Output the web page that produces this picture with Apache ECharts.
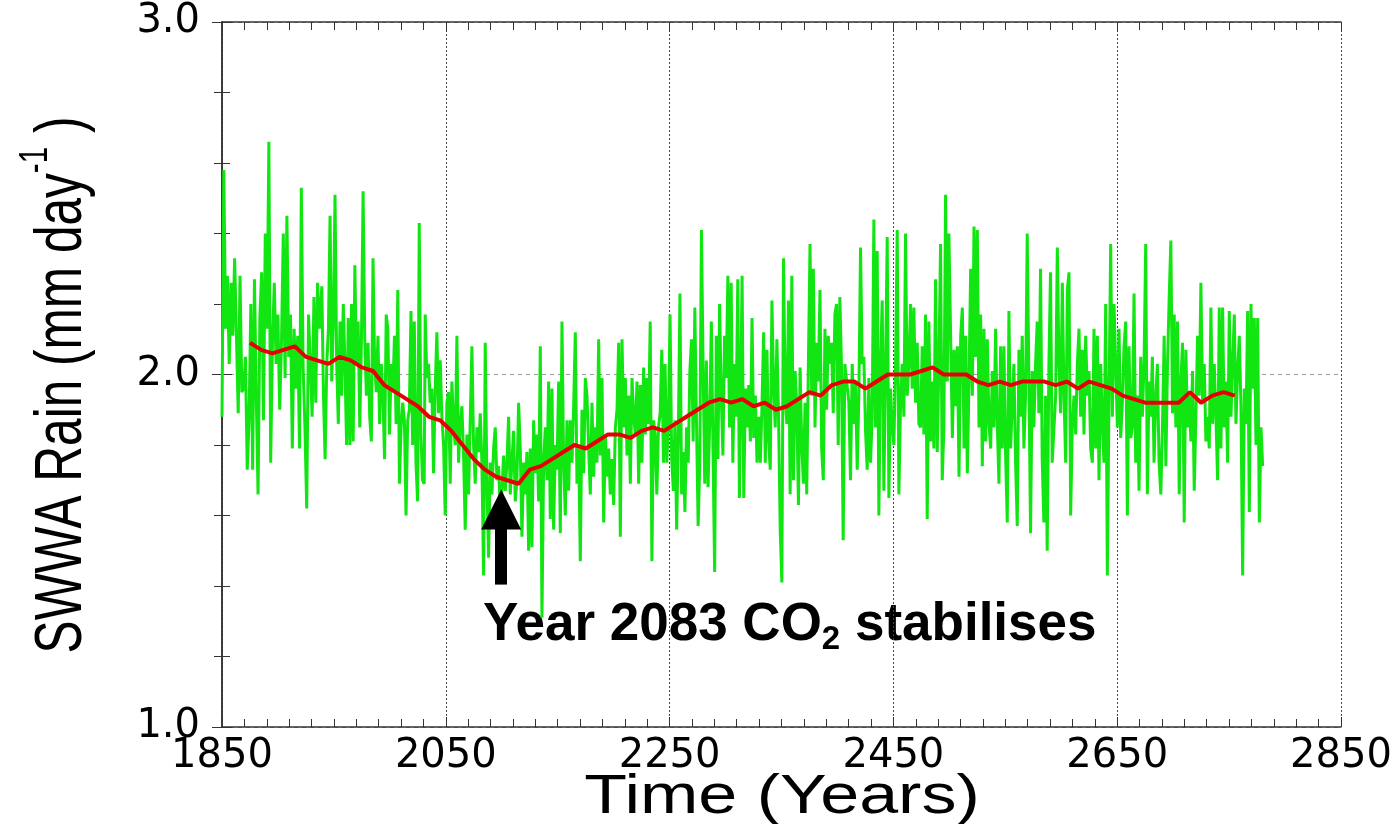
<!DOCTYPE html>
<html>
<head>
<meta charset="utf-8">
<title>SWWA Rain</title>
<script src="https://cdn.jsdelivr.net/npm/echarts@6/dist/echarts.min.js"></script>
<style>
  html, body { margin: 0; padding: 0; background: #fff; }
  #chart { width: 1399px; height: 824px; }
</style>
</head>
<body>
<div id="chart"></div>
<script>
// axis origin, the x axis is drawn as years since 1850
var baseYear = 1850;

// annual rain (green)
var green1 = [1.88, 2.58, 2.13, 2.28, 2.03, 2.26, 2.11, 2.33, 2.11, 1.89, 2.28, 1.95, 1.96, 2.05, 1.73, 1.87, 2.20, 1.73, 2.27, 1.94, 1.66, 2.16, 2.29, 1.87, 2.40, 2.13, 2.66, 1.75, 2.09, 2.26, 2.03, 2.17, 1.90, 2.09, 2.40, 1.99, 2.45, 2.05, 2.17, 1.79, 2.13, 1.96, 2.11, 1.79, 2.53, 2.02, 1.85, 1.62, 2.17, 2.03, 1.88, 2.22, 1.92, 2.26, 2.13];
var green2 = [2.25, 1.94, 1.76, 2.03, 2.13, 2.45, 1.98, 2.15, 2.51, 2.03, 1.86, 2.15, 1.94, 2.20, 2.03, 1.80, 2.16, 1.80, 2.20, 1.81, 2.31, 2.03, 2.15, 1.85, 2.10, 2.52, 2.10, 1.94, 2.09, 1.88, 1.81, 2.33, 2.03, 1.95, 2.11, 1.86, 2.03, 1.94, 1.76, 2.17, 2.13, 1.83, 2.03, 1.95, 2.11, 1.86, 2.24, 1.69, 1.85, 1.92, 1.87, 1.60, 1.87, 1.90, 2.18, 1.80, 2.15, 1.75, 1.64, 2.43, 1.83, 1.70, 1.69];
var green3 = [2.17, 1.99, 2.03, 1.92, 1.96, 1.72, 1.96, 2.12, 1.89, 2.04, 1.88, 1.80, 1.60, 1.92, 1.95, 1.69, 1.98, 1.85, 1.80, 2.11, 1.75, 1.86, 1.91, 1.77, 1.56, 1.83, 1.66, 1.87, 2.08, 1.80, 1.69, 1.85, 1.78, 1.89, 1.75, 1.43, 2.09, 1.69, 1.48, 1.75, 1.66, 1.79, 1.85, 1.70, 1.74, 1.61, 1.67, 1.77, 1.67, 1.75, 1.88, 1.66, 1.75, 1.84, 1.64, 1.70, 1.92, 1.79, 1.54, 1.75, 1.66, 1.78, 1.50];
var green4 = [1.79, 1.51, 1.87, 1.72, 1.83, 1.64, 2.08, 1.31, 1.75, 1.85, 1.70, 1.98, 1.59, 1.96, 1.56, 1.80, 1.73, 1.98, 1.55, 2.15, 1.75, 1.60, 1.87, 1.67, 1.87, 1.75, 1.91, 2.12, 1.69, 1.79, 1.47, 1.90, 1.72, 1.99, 1.94, 1.79, 1.66, 1.92, 1.71, 1.85, 1.75, 2.10, 1.77, 1.99, 1.58, 1.83, 1.71, 1.79, 1.66, 1.76, 1.63, 1.85, 1.90, 2.09, 1.54, 2.10, 1.85, 1.99, 1.77, 1.94, 1.69, 1.99, 1.88];
var green5 = [1.83, 1.98, 1.69, 1.97, 1.75, 2.02, 1.83, 1.99, 1.86, 2.15, 1.47, 1.87, 1.83, 1.66, 1.85, 1.89, 2.07, 1.75, 2.03, 1.75, 1.86, 2.17, 1.76, 1.67, 1.87, 1.56, 1.83, 2.23, 1.66, 1.78, 1.61, 1.85, 1.75, 2.01, 2.10, 1.81, 2.19, 1.87, 1.57, 1.75, 2.41, 2.03, 1.69, 2.04, 1.68, 1.86, 2.15, 1.79, 1.44, 2.11, 1.76, 2.20, 1.94, 1.77, 2.11, 1.99, 2.28, 1.85, 2.26, 1.75, 2.03, 1.88, 2.27, 1.65];
var green6 = [1.87, 2.28, 1.65, 1.96, 1.85, 1.97, 1.81, 2.16, 1.82, 1.94, 1.75, 1.88, 1.75, 1.91, 2.12, 1.75, 2.07, 1.81, 1.73, 2.21, 1.97, 1.85, 2.10, 1.88, 1.56, 1.41, 2.33, 1.94, 1.86, 2.21, 1.66, 2.28, 1.70, 2.01, 1.91, 1.63, 2.02, 1.80, 1.69, 1.92, 1.66, 2.03, 2.37, 1.94, 2.30, 1.85, 2.09, 1.98, 2.24, 1.79, 1.70, 2.13, 1.90, 2.11, 2.03, 2.09, 1.89, 2.17, 2.20, 1.80, 2.22, 2.02, 1.53, 2.03];
var green7 = [1.92, 1.70, 2.03, 1.86, 1.98, 1.73, 1.94, 2.36, 2.03, 2.05, 1.84, 1.73, 1.99, 1.75, 1.88, 2.44, 1.85, 2.35, 1.60, 2.03, 2.21, 1.67, 2.02, 2.39, 1.65, 1.96, 1.85, 1.80, 2.03, 2.41, 1.66, 1.92, 2.03, 1.88, 2.40, 1.94, 2.03, 2.20, 1.96, 2.19, 1.92, 2.09, 1.86, 1.85, 2.08, 1.83, 2.17, 1.59, 2.15, 1.81, 1.98, 1.79, 2.27, 1.78, 2.03, 2.37, 1.70, 1.85, 2.51, 1.98, 2.40];
var green8 = [1.82, 2.07, 1.91, 2.08, 1.71, 2.11, 2.19, 1.79, 2.11, 1.72, 1.98, 2.30, 1.94, 2.42, 2.05, 2.41, 1.85, 2.17, 1.74, 2.13, 1.81, 2.10, 1.86, 1.79, 2.01, 1.85, 2.13, 1.86, 1.69, 2.08, 1.79, 2.08, 1.77, 1.58, 2.18, 1.79, 1.91, 2.03, 1.75, 1.57, 2.07, 1.88, 2.11, 1.79, 1.94, 2.40, 1.99, 1.55, 2.01, 1.85, 2.03, 2.15, 1.89, 2.30, 1.76, 1.58, 1.94, 1.50, 2.02, 2.29, 1.75];
var green9 = [1.94, 2.36, 2.03, 1.89, 2.26, 1.94, 1.75, 2.24, 2.29, 1.60, 1.86, 1.94, 1.83, 2.03, 2.13, 1.88, 2.07, 1.83, 2.11, 1.94, 2.01, 1.79, 1.75, 2.13, 1.79, 2.11, 1.70, 2.03, 1.86, 1.75, 2.20, 1.43, 1.94, 2.37, 1.88, 2.20, 2.03, 1.85, 2.13, 1.82, 1.92, 2.08, 2.15, 1.60, 2.08, 1.82, 1.85, 2.23, 1.75, 1.94, 1.67, 2.05, 1.88, 2.03, 2.37, 1.66, 1.98, 1.88, 2.05, 1.75, 1.93, 2.03, 1.75];
var green10 = [1.66, 1.86, 2.11, 1.74, 2.03, 2.22, 2.38, 1.89, 2.17, 1.85, 2.15, 1.66, 1.98, 2.09, 1.58, 2.07, 1.85, 1.94, 1.81, 2.01, 1.67, 1.88, 2.11, 1.94, 2.26, 1.92, 2.03, 1.81, 1.88, 1.79, 2.19, 1.86, 2.03, 1.88, 1.70, 2.19, 1.79, 2.19, 1.85, 1.98, 1.75, 2.18, 1.88, 2.03, 2.17, 1.86, 2.01, 2.11, 1.91, 1.43, 1.96, 1.86, 2.18, 1.61, 2.20, 1.96, 2.16, 1.80, 2.16, 1.58, 1.85, 1.74];

// first and last year of each green piece
var greenSpans = [[1850, 1937], [1939.2, 2030.7], [2031.6, 2124], [2125.5, 2217.9], [2219.4, 2312.4],
                  [2313.3, 2406.6], [2410.2, 2499.6], [2502.7, 2591.9], [2595, 2687.4], [2689, 2780]];
var greenPieces = [green1, green2, green3, green4, green5, green6, green7, green8, green9, green10];

// running mean (red), every 10 years from 1875
var redStart = 1875;
var redStep = 10;
var redMean = [2.09, 2.07, 2.06, 2.07, 2.08, 2.05, 2.04, 2.03, 2.05, 2.04, 2.02, 2.01, 1.97, 1.95, 1.93, 1.91,
               1.88, 1.87, 1.84, 1.80, 1.76, 1.73, 1.71, 1.70, 1.69, 1.73, 1.74, 1.76, 1.78, 1.80, 1.79, 1.81,
               1.83, 1.83, 1.82, 1.84, 1.85, 1.84, 1.86, 1.88, 1.90, 1.92, 1.93, 1.92, 1.93, 1.91, 1.92, 1.90,
               1.91, 1.93, 1.95, 1.94, 1.97, 1.98, 1.98, 1.96, 1.98, 2.00, 2.00, 2.00, 2.01, 2.02, 2.00, 2.00,
               2.00, 1.98, 1.97, 1.98, 1.97, 1.98, 1.98, 1.98, 1.97, 1.98, 1.96, 1.98, 1.97, 1.96, 1.94, 1.93,
               1.92, 1.92, 1.92, 1.92, 1.95, 1.92, 1.94, 1.95, 1.94];

// tick labels
var xTickYears = [1850, 2050, 2250, 2450, 2650, 2850];
var yTickValues = [1.0, 2.0, 3.0];

// the arrow under the minimum
var arrowYear = 2099.5;
var arrowBase = 1.404;
var arrowTip = 1.617;

var greenData = [];
for (var k = 0; k < greenPieces.length; k++) {
    var vals = greenPieces[k];
    var y0 = greenSpans[k][0], y1 = greenSpans[k][1];
    var step = (y1 - y0) / (vals.length - 1);
    for (var i = 0; i < vals.length; i++) {
        greenData.push([y0 + i * step - baseYear, vals[i]]);
    }
}
var redData = [];
for (var j = 0; j < redMean.length; j++) {
    redData.push([redStart + j * redStep - baseYear, redMean[j]]);
}

var measureCtx = document.createElement('canvas').getContext('2d');
function textWidth(str, font) {
    measureCtx.font = font;
    return measureCtx.measureText(str).width;
}

// y title with a superscript, built from three pieces
var yFont = '67px "Liberation Sans", Arial, sans-serif';
var ySupFont = '40px "Liberation Sans", Arial, sans-serif';
var yParts = ['SWWA Rain (mm day', '-1', ' )'];
var yw1 = textWidth(yParts[0], yFont);
var yw2 = textWidth(yParts[1], ySupFont);
var yw3 = textWidth(yParts[2], yFont);
var yTotal = yw1 + yw2 + yw3;

// annotation with subscript
var aFont = 'bold 53px "Liberation Sans", Arial, sans-serif';
var aSubFont = 'bold 33px "Liberation Sans", Arial, sans-serif';
var aParts = ['Year 2083 CO', '2', ' stabilises'];
var aw1 = textWidth(aParts[0], aFont);
var aw2 = textWidth(aParts[1], aSubFont);

var tickFont = '"DejaVu Sans", sans-serif';

var chart = echarts.init(document.getElementById('chart'));

var option = {
    animation: false,
    grid: { left: 222, right: 58, top: 22, bottom: 97, containLabel: false },
    xAxis: [{
        type: 'value',
        position: 'bottom',
        min: xTickYears[0] - baseYear,
        max: xTickYears[xTickYears.length - 1] - baseYear,
        interval: 200,
        axisLine: { show: true, lineStyle: { color: '#333', width: 1.5 } },
        axisTick: { show: true, inside: true, length: 10, lineStyle: { color: '#333' } },
        minorTick: { show: true, splitNumber: 10, length: 8, lineStyle: { color: '#333' } },
        axisLabel: {
            margin: 10, color: '#000', fontSize: 40, fontFamily: tickFont,
            formatter: function (v) { return String(v + baseYear); }
        },
        splitLine: { show: true, lineStyle: { color: '#444', type: [2, 2], width: 1 } }
    }, {
        type: 'value',
        position: 'top',
        min: xTickYears[0] - baseYear,
        max: xTickYears[xTickYears.length - 1] - baseYear,
        interval: 200,
        axisLine: { show: true, lineStyle: { color: '#333', width: 1.5 } },
        axisTick: { show: true, inside: true, length: 10, lineStyle: { color: '#333' } },
        minorTick: { show: true, splitNumber: 10, length: 8, lineStyle: { color: '#333' } },
        axisLabel: { show: false },
        splitLine: { show: false }
    }],
    yAxis: [{
        type: 'value',
        position: 'left',
        min: yTickValues[0],
        max: yTickValues[yTickValues.length - 1],
        interval: 1,
        axisLine: { show: true, lineStyle: { color: '#333', width: 1.5 } },
        axisTick: { show: true, inside: true, length: 10, lineStyle: { color: '#333' } },
        minorTick: { show: true, splitNumber: 5, length: 8, lineStyle: { color: '#333' } },
        axisLabel: {
            margin: 22, color: '#000', fontSize: 40, fontFamily: tickFont,
            formatter: function (v) { return v.toFixed(1); }
        },
        splitLine: { show: true, lineStyle: { color: '#999', type: [4, 4], width: 1 } }
    }, {
        type: 'value',
        position: 'right',
        min: yTickValues[0],
        max: yTickValues[yTickValues.length - 1],
        interval: 1,
        axisLine: { show: true, lineStyle: { color: '#333', width: 1.5 } },
        axisTick: { show: true, inside: true, length: 10, lineStyle: { color: '#333' } },
        minorTick: { show: true, splitNumber: 5, length: 8, lineStyle: { color: '#333' } },
        axisLabel: { show: false },
        splitLine: { show: false }
    }],
    series: [{
        name: 'annual',
        type: 'line',
        data: greenData,
        showSymbol: false,
        silent: true,
        z: 2,
        lineStyle: { color: '#12e612', width: 3 }
    }, {
        name: 'mean',
        type: 'line',
        data: redData,
        showSymbol: false,
        silent: true,
        z: 3,
        lineStyle: { color: '#e60000', width: 4 },
        markLine: {
            silent: true,
            symbol: ['none', 'triangle'],
            symbolSize: 40,
            label: { show: false },
            lineStyle: { color: '#000', width: 12, type: 'solid', opacity: 1 },
            itemStyle: { color: '#000' },
            emphasis: { disabled: true },
            data: [[
                { coord: [arrowYear - baseYear, arrowBase], symbol: 'none' },
                { coord: [arrowYear - baseYear, arrowTip], symbol: 'triangle', symbolSize: 40 }
            ]]
        }
    }],
    graphic: [{
        type: 'group',
        x: 63, y: 385,
        rotation: Math.PI / 2,
        scaleX: 0.74,
        children: [
            { type: 'text', x: -yTotal / 2, y: 0, style: { text: yParts[0], font: yFont, fill: '#000', verticalAlign: 'middle' } },
            { type: 'text', x: -yTotal / 2 + yw1, y: -27, style: { text: yParts[1], font: ySupFont, fill: '#000', verticalAlign: 'middle' } },
            { type: 'text', x: -yTotal / 2 + yw1 + yw2, y: 0, style: { text: yParts[2], font: yFont, fill: '#000', verticalAlign: 'middle' } }
        ]
    }, {
        type: 'group',
        x: 782, y: 798,
        scaleX: 1.25,
        children: [
            { type: 'text', x: 0, y: 0, style: { text: 'Time (Years)', font: '56px "Liberation Sans", Arial, sans-serif', fill: '#000', align: 'center', verticalAlign: 'middle' } }
        ]
    }, {
        type: 'group',
        x: 483, y: 625,
        children: [
            { type: 'text', x: 0, y: 0, style: { text: aParts[0], font: aFont, fill: '#000', verticalAlign: 'middle' } },
            { type: 'text', x: aw1, y: 15, style: { text: aParts[1], font: aSubFont, fill: '#000', verticalAlign: 'middle' } },
            { type: 'text', x: aw1 + aw2, y: 0, style: { text: aParts[2], font: aFont, fill: '#000', verticalAlign: 'middle' } }
        ]
    }]
};

chart.setOption(option);
</script>
</body>
</html>
